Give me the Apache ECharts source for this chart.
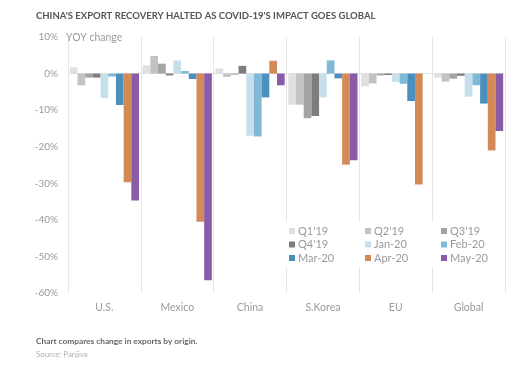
<!DOCTYPE html>
<html><head><meta charset="utf-8">
<script src="https://cdn.jsdelivr.net/npm/echarts@6/dist/echarts.min.js"></script>
<style>html,body{margin:0;padding:0;background:#fff}#c{width:527px;height:371px}</style>
</head><body><div id="c"></div>
<script>
const categories = ['U.S.', 'Mexico', 'China', 'S.Korea', 'EU', 'Global'];
const seriesNames = ["Q1'19", "Q2'19", "Q3'19", "Q4'19", 'Jan-20', 'Feb-20', 'Mar-20', 'Apr-20', 'May-20'];
const q1_19 = [1.7, 2.3, 1.4, -8.5, -3.5, -1.1];
const q2_19 = [-3.2, 4.8, -0.9, -8.5, -2.7, -2.2];
const q3_19 = [-1.1, 2.7, -0.3, -12.2, -0.5, -1.4];
const q4_19 = [-1.1, -0.5, 2.1, -11.6, -0.4, -0.6];
const jan_20 = [-6.7, 3.6, -17.0, -6.5, -2.3, -6.3];
const feb_20 = [-0.8, 0.7, -17.2, 3.6, -2.8, -3.2];
const mar_20 = [-8.6, -1.5, -6.5, -1.3, -7.5, -8.2];
const apr_20 = [-29.7, -40.5, 3.5, -24.9, -30.3, -21.0];
const may_20 = [-34.7, -56.5, -3.2, -23.7, null, -15.7];
const yTicks = { min: -60, max: 10, interval: 10 };

const values = [q1_19, q2_19, q3_19, q4_19, jan_20, feb_20, mar_20, apr_20, may_20];
const colors = ['#e0e0e0', '#c3c3c3', '#a4a4a4', '#7d7d7d', '#c6dfeb', '#80b9d6', '#4b8fbf', '#d38a58', '#8a5ca8'];

const font = 'Lato, "Open Sans", sans-serif';
const chart = echarts.init(document.getElementById('c'));

function legendCol(items, left) {
  return {
    orient: 'vertical', left: left, top: 222,
    data: items, itemWidth: 6, itemHeight: 6, itemGap: 1.5,
    icon: 'rect', backgroundColor: '#fff', padding: [3, 12, 3, 12],
    textStyle: { color: '#9a9a9a', fontFamily: font, fontSize: 11, lineHeight: 12, padding: [0, 0, 0, -2] },
    selectedMode: false
  };
}

chart.setOption({
  animation: false,
  color: colors,
  title: [{
    text: "CHINA'S EXPORT RECOVERY HALTED AS COVID-19'S IMPACT GOES GLOBAL",
    left: 31, top: 6,
    textStyle: { fontFamily: font, fontSize: 9.5, fontWeight: 'bold', color: '#555' }
  }, {
    text: 'Chart compares change in exports by origin.',
    left: 31, top: 332,
    textStyle: { fontFamily: font, fontSize: 8.3, fontWeight: 'bold', color: '#666' }
  }, {
    text: 'Source: Panjiva',
    left: 31, top: 345,
    textStyle: { fontFamily: font, fontSize: 7.8, fontWeight: 'normal', color: '#b0b0b0' }
  }],
  legend: [
    legendCol([seriesNames[0], seriesNames[3], seriesNames[6]], 277),
    legendCol([seriesNames[1], seriesNames[4], seriesNames[7]], 353),
    legendCol([seriesNames[2], seriesNames[5], seriesNames[8]], 429)
  ],
  grid: { left: 68, right: 22, top: 37, bottom: 78 },
  xAxis: {
    type: 'category', data: categories,
    axisLine: { show: true, onZero: true, lineStyle: { color: '#e2e2e2' } },
    axisTick: { show: false },
    splitLine: { show: true, lineStyle: { color: '#e6e6e6', width: 1 } },
    axisLabel: { color: '#9a9a9a', fontFamily: font, fontSize: 10.5, margin: 9, interval: 0 },
    position: 'bottom'
  },
  yAxis: {
    type: 'value', min: yTicks.min, max: yTicks.max, interval: yTicks.interval,
    name: 'YOY change', nameLocation: 'end', nameGap: -1,
    nameTextStyle: { color: '#9a9a9a', fontFamily: font, fontSize: 10.5, align: 'left', verticalAlign: 'middle', padding: [0, 0, 0, -2] },
    axisLine: { show: false }, axisTick: { show: false },
    splitLine: { show: false },
    axisLabel: { color: '#9a9a9a', fontFamily: font, fontSize: 10, margin: 10, formatter: '{value}%' }
  },
  series: seriesNames.map((n, i) => ({
    name: n, type: 'bar', data: values[i],
    barGap: '0%', barCategoryGap: '5%',
    itemStyle: { color: colors[i] }
  }))
});
</script></body></html>
